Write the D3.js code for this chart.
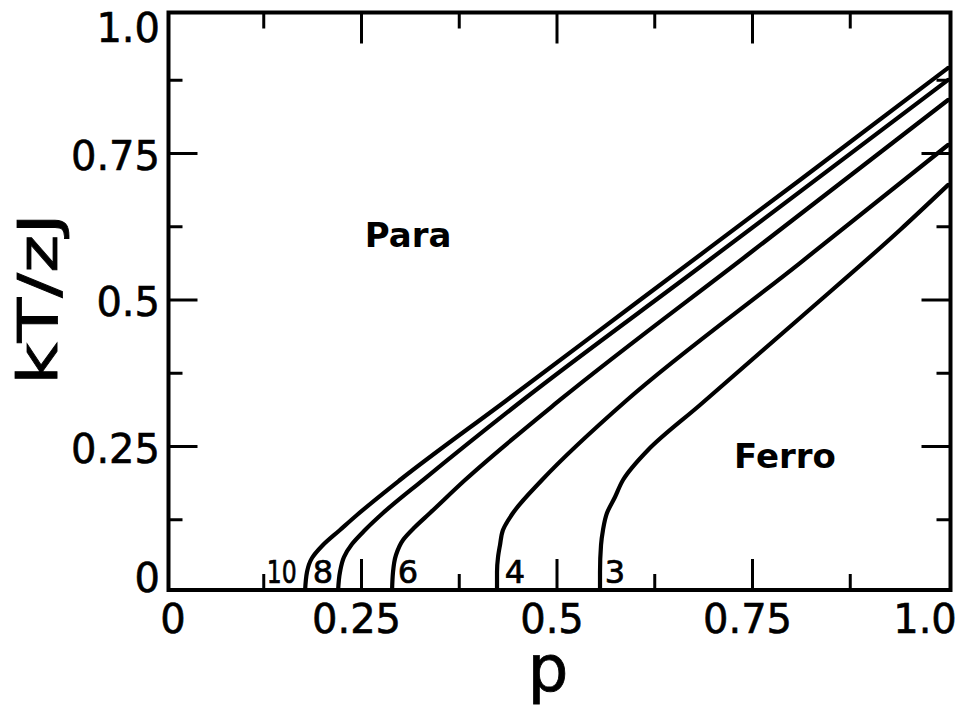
<!DOCTYPE html>
<html><head><meta charset="utf-8">
<script src="https://cdn.jsdelivr.net/npm/d3@7"></script>
<style>body{margin:0;background:#fff}svg{display:block}</style>
</head><body>
<svg id="c" width="959" height="719"></svg>
<script>
// ---- data ----
const seriesNames = ["10", "8", "6", "4", "3"];
const p10 = [0.1777,0.1803,0.1867,0.1995,0.2225,0.2442,0.2992,0.4361,0.6061,0.8107,1.0];
const t10 = [0,0.0358,0.0597,0.0802,0.1075,0.1331,0.1928,0.3294,0.5,0.7048,0.8959];
const p8  = [0.2199,0.2225,0.2276,0.2379,0.2545,0.2775,0.3286,0.4565,0.6829,1.0];
const t8  = [0,0.0358,0.0614,0.0836,0.1075,0.1365,0.1928,0.3294,0.5563,0.8754];
const p6  = [0.289,0.2903,0.2941,0.3031,0.3184,0.3376,0.3824,0.5038,0.7468,1.0];
const t6  = [0,0.0358,0.0648,0.0904,0.1126,0.1365,0.1928,0.3294,0.5802,0.8413];
const p4  = [0.4233,0.4233,0.4246,0.4271,0.4309,0.4437,0.4808,0.5895,0.8107,1.0];
const t4  = [0,0.0358,0.0614,0.0819,0.1075,0.1365,0.1928,0.3294,0.5631,0.7645];
const p3  = [0.555,0.555,0.5563,0.5588,0.5639,0.5742,0.5844,0.6164,0.6829,0.8107,0.9386,1.0];
const t3  = [0,0.0358,0.0819,0.1075,0.1365,0.1638,0.1928,0.244,0.3208,0.4693,0.6195,0.6962];
const labelP = [0.148, 0.2008, 0.3095, 0.4463, 0.5742];
const labelT = 0.017;
const xMajor = [0, 0.25, 0.5, 0.75, 1.0];
const xMajorLabels = ["0", "0.25", "0.5", "0.75", "1.0"];
const yMajor = [0, 0.25, 0.5, 0.75, 1.0];
const yMajorLabels = ["0", "0.25", "0.5", "0.75", "1.0"];
const minorTicks = [0.125, 0.375, 0.625, 0.875];
const regions = [{text:"Para", p:0.3095, t:0.5904}, {text:"Ferro", p:0.7916, t:0.2133}];

// ---- drawing ----
const svg = d3.select("#c");
const x = d3.scaleLinear().domain([0,1]).range([166, 948]);
const y = d3.scaleLinear().domain([0,1]).range([593, 7]);
const fL = 168.5, fR = 950.5, fT = 12.5, fB = 590;
const font = "'DejaVu Sans', sans-serif";

const series = [[p10,t10],[p8,t8],[p6,t6],[p4,t4],[p3,t3]];
svg.append("clipPath").attr("id","pc").append("rect")
  .attr("x", fL).attr("y", fT).attr("width", fR-fL).attr("height", fB-fT);
const line = d3.line().x(d=>x(d[0])).y(d=>y(d[1])).curve(d3.curveMonotoneY);
svg.append("g").attr("clip-path","url(#pc)").selectAll("path").data(series).join("path")
  .attr("d", s => line(s[0].map((v,i)=>[v, s[1][i]])))
  .attr("fill","none").attr("stroke","#000").attr("stroke-width",4.2)
  .attr("stroke-linejoin","round").attr("stroke-linecap","round");

// ticks
const tk = svg.append("g").attr("stroke","#000").attr("stroke-width",3);
const inner = xMajor.slice(1,-1);
inner.forEach(v=>{
  tk.append("line").attr("x1",x(v)).attr("x2",x(v)).attr("y1",fB).attr("y2",fB-31);
  tk.append("line").attr("x1",x(v)).attr("x2",x(v)).attr("y1",fT).attr("y2",fT+31);
  tk.append("line").attr("y1",y(v)).attr("y2",y(v)).attr("x1",fL).attr("x2",fL+29);
  tk.append("line").attr("y1",y(v)).attr("y2",y(v)).attr("x1",fR).attr("x2",fR-29);
});
minorTicks.forEach(v=>{
  tk.append("line").attr("x1",x(v)).attr("x2",x(v)).attr("y1",fB).attr("y2",fB-16);
  tk.append("line").attr("x1",x(v)).attr("x2",x(v)).attr("y1",fT).attr("y2",fT+16);
  tk.append("line").attr("y1",y(v)).attr("y2",y(v)).attr("x1",fL).attr("x2",fL+14);
  tk.append("line").attr("y1",y(v)).attr("y2",y(v)).attr("x1",fR).attr("x2",fR-14);
});

// frame
svg.append("rect").attr("x",fL).attr("y",fT).attr("width",fR-fL).attr("height",fB-fT)
  .attr("fill","none").attr("stroke","#000").attr("stroke-width",4);

// tick labels
svg.append("g").selectAll("text").data(xMajor).join("text")
  .attr("x",(d,i)=> x(d) + (i===0 ? 7 : i===xMajor.length-1 ? -23 : -5))
  .attr("y",633).attr("text-anchor","middle")
  .attr("font-family",font).attr("font-size",40)
  .attr("stroke","#000").attr("stroke-width",0.6).text((d,i)=>xMajorLabels[i]);
svg.append("g").selectAll("text").data(yMajor).join("text")
  .attr("x",160).attr("y",(d,i)=> y(d) + (i===0 ? -1 : i===yMajor.length-1 ? 35 : 16))
  .attr("text-anchor","end")
  .attr("font-family",font).attr("font-size",40)
  .attr("stroke","#000").attr("stroke-width",0.6).text((d,i)=>yMajorLabels[i]);

// curve labels
svg.append("g").selectAll("text").data(seriesNames).join("text")
  .attr("x",(d,i)=>x(labelP[i])).attr("y",y(labelT)).attr("text-anchor","middle")
  .attr("font-family",font).attr("font-size",32)
  .attr("stroke","#000").attr("stroke-width",0.7)
  .each(function(d){ if(d.length>1) d3.select(this).attr("textLength",30).attr("lengthAdjust","spacingAndGlyphs"); })
  .text(d=>d);

// region labels
svg.append("g").selectAll("text").data(regions).join("text")
  .attr("x",d=>x(d.p)).attr("y",d=>y(d.t)).attr("text-anchor","middle")
  .attr("font-family",font).attr("font-weight","bold").attr("font-size",34).text(d=>d.text);

// axis titles
svg.append("text").attr("transform","translate(57,299) rotate(-90)")
  .attr("text-anchor","middle").attr("font-family",font).attr("font-size",56)
  .attr("stroke","#000").attr("stroke-width",0.8)
  .attr("textLength",172).attr("lengthAdjust","spacingAndGlyphs").text("kT/zJ");
svg.append("text").attr("x",548).attr("y",691).attr("text-anchor","middle")
  .attr("font-family",font).attr("font-size",64)
  .attr("stroke","#000").attr("stroke-width",0.8).text("p");
</script>
</body></html>
